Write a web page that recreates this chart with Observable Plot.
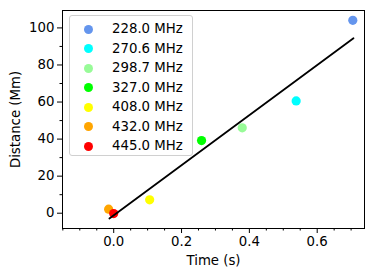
<!DOCTYPE html>
<html>
<head>
<meta charset="utf-8">
<script src="https://cdn.jsdelivr.net/npm/d3@7"></script>
<script src="https://cdn.jsdelivr.net/npm/@observablehq/plot@0.6"></script>
<style>
  html, body { margin: 0; padding: 0; background: white; }
  #wrap { position: relative; width: 374px; height: 278px; font-family: "DejaVu Sans", sans-serif; }
  #legend { position: absolute; left: 69px; top: 15px; width: 124px; height: 141px;
    border: 1px solid #d0d0d0; border-radius: 3px; background: rgba(255,255,255,0.8); box-sizing: border-box; }
  .row { position: absolute; left: 0; height: 18px; font-size: 13.3px; color: black; }
  .sw { position: absolute; left: 14px; top: 4.5px; width: 9px; height: 9px; border-radius: 50%; }
  .lab { position: absolute; left: 42px; top: 0; line-height: 18px; white-space: nowrap; }
</style>
</head>
<body>
<div id="wrap"><div id="legend"></div></div>
<script>
const freqLabels = ["228.0 MHz", "270.6 MHz", "298.7 MHz", "327.0 MHz", "408.0 MHz", "432.0 MHz", "445.0 MHz"];
const times = [0.705, 0.538, 0.379, 0.259, 0.106, -0.015, 0.0];
const distances = [104.1, 60.6, 46.1, 39.2, 7.2, 2.2, -0.2];
const colors = ["cornflowerblue", "cyan", "palegreen", "lime", "yellow", "orange", "red"];
const fitTimes = [-0.0127, 0.707];
const fitDistances = [-2.9, 94.4];
const xTicks = [0, 0.2, 0.4, 0.6];
const xMinorTicks = [-0.15, -0.1, -0.05, 0.05, 0.1, 0.15, 0.25, 0.3, 0.35, 0.45, 0.5, 0.55, 0.65, 0.7];
const yTicks = [0, 20, 40, 60, 80, 100];
const yMinorTicks = [10, 30, 50, 70, 90];

const points = freqLabels.map((f, i) => ({f, t: times[i], d: distances[i], c: colors[i]}));
const fit = fitTimes.map((t, i) => ({t, d: fitDistances[i]}));

const chart = Plot.plot({
  width: 374, height: 278,
  marginLeft: 62, marginRight: 10, marginTop: 10, marginBottom: 50,
  x: {domain: [-0.151, 0.7395]},
  y: {domain: [-8.25, 109.4]},
  color: {type: "identity"},
  style: {fontFamily: "DejaVu Sans", fontSize: "13.3px", color: "black", background: "white"},
  marks: [
    Plot.axisX(xMinorTicks, {tickSize: 2.5, text: null, label: null, strokeWidth: 1}),
    Plot.axisX(xTicks, {tickSize: 5, tickPadding: 3, tickFormat: d => d.toFixed(1), label: "Time (s)", labelAnchor: "center", labelArrow: "none", labelOffset: 36, strokeWidth: 1}),
    Plot.axisY(yMinorTicks, {tickSize: 2.5, text: null, label: null, strokeWidth: 1}),
    Plot.axisY(yTicks, {tickSize: 5, tickPadding: 3, tickFormat: d => String(d), label: "Distance (Mm)", labelAnchor: "center", labelArrow: "none", labelOffset: 52, strokeWidth: 1}),
    Plot.dot(points, {x: "t", y: "d", fill: "c", r: 4.6, stroke: null}),
    Plot.line(fit, {x: "t", y: "d", stroke: "black", strokeWidth: 1.8}),
    Plot.frame({stroke: "black", strokeWidth: 1})
  ]
});
document.getElementById("wrap").prepend(chart);

const legend = document.getElementById("legend");
freqLabels.forEach((f, i) => {
  const row = document.createElement("div");
  row.className = "row";
  row.style.top = (4.3 + i * 19.5) + "px";
  const sw = document.createElement("div");
  sw.className = "sw";
  sw.style.background = colors[i];
  const lab = document.createElement("div");
  lab.className = "lab";
  lab.textContent = f;
  row.appendChild(sw); row.appendChild(lab);
  legend.appendChild(row);
});
</script>
</body>
</html>
